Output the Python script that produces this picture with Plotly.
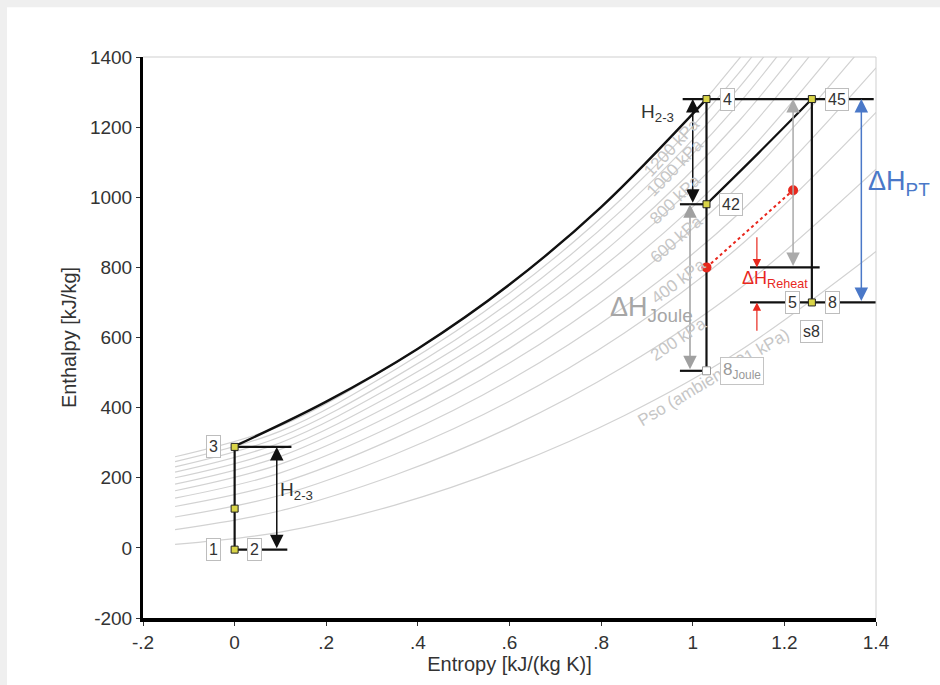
import plotly.graph_objects as go

# ---------------- data ----------------
# Isobars of air in the h-s plane: enthalpy (kJ/kg) at fixed entropy stations
isobar_s = [-0.13, 0.1, 0.35, 0.6, 0.85, 1.1, 1.4]
h_101 = [10, 45, 122, 233, 377, 560, 845]
h_200 = [52, 106, 208, 343, 517, 737, 1080]
h_300 = [88, 150, 267, 418, 612, 858, 1242]
h_400 = [118, 185, 313, 478, 687, 953, 1369]
h_500 = [142, 214, 351, 527, 750, 1032, 1474]
h_600 = [163, 239, 384, 569, 803, 1100, 1564]
h_700 = [182, 261, 414, 607, 851, 1162, 1646]
h_800 = [200, 281, 441, 640, 894, 1216, 1717]
h_900 = [216, 300, 465, 671, 933, 1266, 1784]
h_1000 = [231, 317, 487, 700, 969, 1311, 1844]
h_1100 = [246, 333, 508, 726, 1002, 1353, 1900]
h_1200 = [260, 348, 527, 751, 1034, 1393, 1960]
isobar_kpa = [101, 200, 300, 400, 500, 600, 700, 800, 900, 1000, 1100, 1200]

# Isobar captions
iso_label_text = ["1200 kPa", "1000 kPa", "800 kPa", "600 kPa", "400 kPa", "200 kPa",
                  "Pso (ambient 101 kPa)"]
iso_label_s = [0.955, 0.962, 0.962, 0.964, 0.968, 0.968, 1.045]
iso_label_h = [1141, 1084, 993, 880, 760, 595, 487]

# Heat addition 3 -> 4 along the 1200 kPa isobar
hp_s = [0.0, 0.2, 0.4, 0.6, 0.8, 1.03]
hp_h = [290, 417, 568, 751, 972, 1280]
# Reheat 42 -> 45
reheat_s = [1.03, 1.145, 1.26]
reheat_h = [980, 1128, 1280]

# State points
state_names = ["1", "", "3", "4", "42", "45", "5", "8<sub>Joule</sub>"]
state_s = [0.0, 0.0, 0.0, 1.03, 1.03, 1.26, 1.26, 1.03]
state_h = [-5, 112, 288, 1280, 980, 1280, 700, 505]

# Vertical processes (s, h_top, h_bottom)
vert_s = [0.0, 1.03, 1.26]
vert_top = [288, 1280, 1280]
vert_bot = [-5, 505, 700]

# Horizontal reference levels (h, s_from, s_to)
level_h = [288, -5, 1280, 980, 505, 800, 700]
level_s0 = [0.0, 0.0, 0.978, 0.972, 0.972, 1.125, 1.125]
level_s1 = [0.124, 0.115, 1.395, 1.03, 1.03, 1.277, 1.4]

# Enthalpy spans (s, h_low, h_high)
span_names = ["H23a", "H23b", "Joule", "turb", "PT"]
span_s = [0.092, 1.0, 0.994, 1.219, 1.368]
span_lo = [-5, 980, 505, 800, 700]
span_hi = [288, 1280, 980, 1280, 1280]

# Reheat (red) states
red_s = [1.03, 1.219]
red_h = [800, 1020]
reheat_arrow_s = 1.14
reheat_tip_h = [800, 700]
reheat_tail_h = [890, 615]

x_ticks = [-0.2, 0, 0.2, 0.4, 0.6, 0.8, 1.0, 1.2, 1.4]
x_tick_labels = ["-.2", "0", ".2", ".4", ".6", ".8", "1", "1.2", "1.4"]
y_ticks = [-200, 0, 200, 400, 600, 800, 1000, 1200, 1400]
y_tick_labels = ["-200", "0", "200", "400", "600", "800", "1000", "1200", "1400"]

# ---------------- figure ----------------
FONT = "Liberation Sans, Arial, Helvetica, sans-serif"
BLACK = "#111111"
GRAY = "#a0a0a0"
RED = "#e8281e"
BLUE = "#4a78c8"

fig = go.Figure()

isobars = [h_101, h_200, h_300, h_400, h_500, h_600, h_700, h_800, h_900, h_1000, h_1100, h_1200]
for kpa, hs in zip(isobar_kpa, isobars):
    fig.add_trace(go.Scatter(x=isobar_s, y=hs, mode="lines", name=f"{kpa} kPa",
                             line=dict(color="#d2d2d2", width=1.2, shape="spline", smoothing=1.0),
                             hoverinfo="skip"))

# horizontal levels
lx, ly = [], []
for h, a, b in zip(level_h, level_s0, level_s1):
    lx += [a, b, None]
    ly += [h, h, None]
fig.add_trace(go.Scatter(x=lx, y=ly, mode="lines", line=dict(color=BLACK, width=2.2), hoverinfo="skip"))

# vertical processes
vx, vy = [], []
for s, t, b in zip(vert_s, vert_top, vert_bot):
    vx += [s, s, None]
    vy += [t, b, None]
fig.add_trace(go.Scatter(x=vx, y=vy, mode="lines", line=dict(color=BLACK, width=2.2), hoverinfo="skip"))

fig.add_trace(go.Scatter(x=hp_s, y=hp_h, mode="lines",
                         line=dict(color=BLACK, width=2.4, shape="spline"), hoverinfo="skip"))
fig.add_trace(go.Scatter(x=reheat_s, y=reheat_h, mode="lines",
                         line=dict(color=BLACK, width=2.2, shape="spline"), hoverinfo="skip"))

# red reheat path
fig.add_trace(go.Scatter(x=red_s, y=red_h, mode="lines+markers",
                         line=dict(color=RED, width=2, dash="dot"),
                         marker=dict(color=RED, size=10), hoverinfo="skip"))

# state markers
fig.add_trace(go.Scatter(x=state_s[:-1], y=state_h[:-1], mode="markers",
                         marker=dict(symbol="square", size=7, color="#d9d447",
                                     line=dict(color="#222", width=1)), hoverinfo="skip"))
fig.add_trace(go.Scatter(x=state_s[-1:], y=state_h[-1:], mode="markers",
                         marker=dict(symbol="square", size=8, color="white",
                                     line=dict(color="#999", width=1)), hoverinfo="skip"))

# enthalpy span arrows
span_style = {
    "H23a": (BLACK, 1.5, 1.8),
    "H23b": (BLACK, 1.5, 1.8),
    "Joule": (GRAY, 1.5, 1.8),
    "turb": ("#aaaaaa", 1.5, 1.8),
    "PT": (BLUE, 1.5, 1.8),
}
for name, s, lo, hi in zip(span_names, span_s, span_lo, span_hi):
    col, w, sz = span_style[name]
    fig.add_annotation(x=s, y=hi, ax=s, ay=lo, xref="x", yref="y", axref="x", ayref="y",
                       text="", showarrow=True, arrowhead=2, startarrowhead=2,
                       arrowside="end+start", arrowsize=sz, startarrowsize=sz,
                       arrowwidth=w, arrowcolor=col, standoff=0, startstandoff=0)

for tip, tail in zip(reheat_tip_h, reheat_tail_h):
    fig.add_annotation(x=reheat_arrow_s, y=tip, ax=reheat_arrow_s, ay=tail,
                       xref="x", yref="y", axref="x", ayref="y", text="", showarrow=True,
                       arrowhead=2, arrowsize=1.4, arrowwidth=1.2, arrowcolor=RED)

# isobar captions
iso_angles = [-47, -46, -44, -41, -37, -34, -31]
for t, s, h, ang in zip(iso_label_text, iso_label_s, iso_label_h, iso_angles):
    fig.add_annotation(x=s, y=h, text=t, showarrow=False, textangle=ang,
                       font=dict(family=FONT, size=17, color="#c6c6c6"))

# state labels (boxed)
box = dict(showarrow=False, bgcolor="white", bordercolor="#bdbdbd", borderwidth=1, borderpad=2,
           font=dict(family=FONT, size=16, color="#333"))
label_shift = {"1": (-21, 0), "3": (-21, 0), "4": (21, 0), "42": (25, 0), "45": (25, 0),
               "5": (-19, 0), "8<sub>Joule</sub>": (36, 0)}
for n, s, h in zip(state_names, state_s, state_h):
    if n in label_shift:
        dx, dy = label_shift[n]
        kw = dict(box)
        if "Joule" in n:
            kw["font"] = dict(family=FONT, size=17, color="#999")
            kw["bordercolor"] = "#c4c4c4"
        fig.add_annotation(x=s, y=h, text=n, xshift=dx, yshift=dy, **kw)
# labels sharing a point with another state
fig.add_annotation(x=state_s[0], y=state_h[0], text="2", xshift=20, **box)
fig.add_annotation(x=state_s[6], y=state_h[6], text="8", xshift=21, **box)
fig.add_annotation(x=state_s[6], y=state_h[6], text="s8", yshift=-29, **box)

# enthalpy difference captions
fig.add_annotation(x=0.134, y=161, text="H<sub>2-3</sub>", showarrow=False,
                   font=dict(family=FONT, size=19, color="#333"))
fig.add_annotation(x=0.922, y=1240, text="H<sub>2-3</sub>", showarrow=False,
                   font=dict(family=FONT, size=19, color="#333"))
fig.add_annotation(x=0.911, y=681, text="ΔH<sub>Joule</sub>", showarrow=False,
                   font=dict(family=FONT, size=27, color="#a6a6a6"))
fig.add_annotation(x=1.18, y=766, text="ΔH<sub>Reheat</sub>", showarrow=False,
                   font=dict(family=FONT, size=18, color=RED))
fig.add_annotation(x=span_s[4], y=1041, text="ΔH<sub>PT</sub>", showarrow=False,
                   xanchor="left", xshift=5,
                   font=dict(family=FONT, size=27, color=BLUE))

# page frame and light plot border
fig.add_shape(type="rect", xref="paper", yref="paper", x0=-0.2, x1=-0.1855, y0=-0.2, y1=1.2,
              fillcolor="#efefef", line_width=0, layer="below")
fig.add_shape(type="rect", xref="paper", yref="paper", x0=-0.2, x1=1.2, y0=1.0888, y1=1.2,
              fillcolor="#efefef", line_width=0, layer="below")
fig.add_shape(type="line", xref="paper", yref="paper", x0=0, x1=1, y0=1, y1=1,
              line=dict(color="#cfcfcf", width=1))
fig.add_shape(type="line", xref="paper", yref="paper", x0=1, x1=1, y0=0, y1=1,
              line=dict(color="#cfcfcf", width=1))

fig.update_layout(
    width=940, height=685,
    margin=dict(l=143, r=64, t=57, b=65),
    paper_bgcolor="white", plot_bgcolor="white",
    showlegend=False,
    font=dict(family=FONT, color="#333"),
)
fig.update_xaxes(range=[-0.2, 1.4], tickvals=x_ticks, ticktext=x_tick_labels,
                 showgrid=False, zeroline=False, showline=True, linecolor="black", linewidth=4,
                 ticks="outside", ticklen=4, tickcolor="#333", tickfont=dict(size=19),
                 title=dict(text="Entropy [kJ/(kg K)]", font=dict(size=20), standoff=6))
fig.update_yaxes(range=[-200, 1400], tickvals=y_ticks, ticktext=y_tick_labels,
                 showgrid=False, zeroline=False, showline=True, linecolor="black", linewidth=3,
                 ticks="outside", ticklen=4, tickcolor="#333", tickfont=dict(size=19),
                 title=dict(text="Enthalpy [kJ/kg]", font=dict(size=20), standoff=8))

fig.write_html("out.html")
